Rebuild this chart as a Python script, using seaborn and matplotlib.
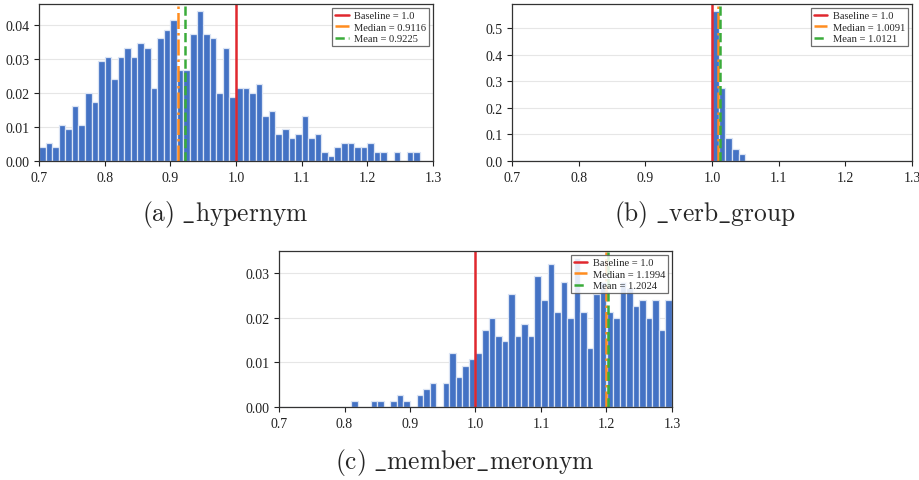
import numpy as np
import pandas as pd
import seaborn as sns
import matplotlib
matplotlib.use('Agg')
import matplotlib.pyplot as plt

# bin layout shared by all panels
bin_start = 0.70
bin_width = 0.01
n_bins = 60

# (a) _hypernym: relative frequency per bin, starting at 0.70
hyp_heights = [0.0041, 0.0054, 0.0041, 0.0107, 0.0094, 0.0161, 0.0107, 0.0199, 0.0172, 0.0294,
               0.0306, 0.0240, 0.0306, 0.0333, 0.0306, 0.0347, 0.0333, 0.0214, 0.0360, 0.0386,
               0.0413, 0.0267, 0.0267, 0.0374, 0.0439, 0.0374, 0.0360, 0.0199, 0.0333, 0.0187,
               0.0214, 0.0214, 0.0199, 0.0227, 0.0133, 0.0146, 0.0080, 0.0094, 0.0067, 0.0080,
               0.0133, 0.0067, 0.0080, 0.0027, 0.0014, 0.0041, 0.0054, 0.0054, 0.0041, 0.0041,
               0.0054, 0.0027, 0.0027, 0.0, 0.0027, 0.0, 0.0027, 0.0027, 0.0, 0.0]
hyp_median = 0.9116
hyp_mean = 0.9225

# (b) _verb_group: only a few non-empty bins
verb_bin_lo = [0.99, 1.00, 1.01, 1.02, 1.03, 1.04, 1.05]
verb_heights = [0.0015, 0.564, 0.274, 0.086, 0.044, 0.028, 0.0015]
verb_median = 1.0091
verb_mean = 1.0121

# (c) _member_meronym
mer_heights = [0.0, 0.0, 0.0, 0.0, 0.0, 0.0, 0.0, 0.0, 0.0, 0.0,
               0.0, 0.0013, 0.0, 0.0, 0.0013, 0.0013, 0.0, 0.0013, 0.0027, 0.0013,
               0.0, 0.0027, 0.0040, 0.0053, 0.0, 0.0053, 0.0120, 0.0067, 0.0093, 0.0107,
               0.0120, 0.0173, 0.0200, 0.0160, 0.0147, 0.0253, 0.0160, 0.0187, 0.0160, 0.0293,
               0.0240, 0.0320, 0.0213, 0.0280, 0.0200, 0.0333, 0.0213, 0.0133, 0.0253, 0.0280,
               0.0213, 0.0200, 0.0280, 0.0267, 0.0227, 0.0240, 0.0200, 0.0240, 0.0173, 0.0240]
mer_median = 1.1994
mer_mean = 1.2024

baseline = 1.0
captions = [r'$\mathrm{(a)\ \_hypernym}$', r'$\mathrm{(b)\ \_verb\_group}$',
            r'$\mathrm{(c)\ \_member\_meronym}$']

sns.set_style('ticks')
plt.rcParams['font.family'] = ['Liberation Serif', 'DejaVu Serif']
plt.rcParams['mathtext.fontset'] = 'cm'

bar_color = '#4472c4'
bin_range = (bin_start, bin_start + n_bins * bin_width)


def draw_panel(ax, centers, heights, median, mean):
    ax.grid(axis='y', color='#e6e6e6', linewidth=0.8, zorder=0)
    ax.set_axisbelow(True)
    df = pd.DataFrame({'ratio': centers, 'freq': heights})
    sns.histplot(data=df, x='ratio', weights='freq', binwidth=bin_width, binrange=bin_range,
                 ax=ax, stat='count', color=bar_color, edgecolor='#dbe4f4',
                 linewidth=0.9, alpha=1.0)
    ax.axvline(baseline, color='#e0282e', linewidth=1.8, label=f'Baseline = {baseline}')
    ax.axvline(median, color='#ff8c1f', linewidth=1.8, linestyle='-.', label=f'Median = {median:.4f}')
    ax.axvline(mean, color='#3aac3a', linewidth=1.8, linestyle='--', label=f'Mean = {mean:.4f}')
    ax.set_xlim(0.7, 1.3)
    ax.set_xticks(np.round(np.arange(0.7, 1.31, 0.1), 1))
    ax.set_xlabel('')
    ax.set_ylabel('')
    ax.tick_params(labelsize=10, length=3.5, width=0.8, colors='#222222')
    for sp in ax.spines.values():
        sp.set_color('#333333')
        sp.set_linewidth(0.9)
    leg = ax.legend(loc='upper right', fontsize=7.6, fancybox=False, framealpha=0.85,
                    edgecolor='#555555', borderpad=0.3, handlelength=1.3,
                    handletextpad=0.5, labelspacing=0.2, borderaxespad=0.35)
    leg.get_frame().set_linewidth(0.9)


fig = plt.figure(figsize=(9.2, 4.81), dpi=100)
ax_a = fig.add_axes([39 / 920, 1 - 162 / 481, 394 / 920, 157 / 481])
ax_b = fig.add_axes([512 / 920, 1 - 162 / 481, 400 / 920, 157 / 481])
ax_c = fig.add_axes([279 / 920, 1 - 408 / 481, 393 / 920, 156 / 481])

centers = bin_start + bin_width * (np.arange(n_bins) + 0.5)
draw_panel(ax_a, centers, hyp_heights, hyp_median, hyp_mean)
draw_panel(ax_b, np.array(verb_bin_lo) + bin_width / 2, verb_heights, verb_median, verb_mean)
draw_panel(ax_c, centers, mer_heights, mer_median, mer_mean)

ax_a.yaxis.set_major_formatter(matplotlib.ticker.FormatStrFormatter('%.2f'))
ax_b.yaxis.set_major_formatter(matplotlib.ticker.FormatStrFormatter('%.1f'))
ax_c.yaxis.set_major_formatter(matplotlib.ticker.FormatStrFormatter('%.2f'))
ax_a.set_yticks([0, 0.01, 0.02, 0.03, 0.04])
ax_b.set_yticks([0, 0.1, 0.2, 0.3, 0.4, 0.5])
ax_c.set_yticks([0, 0.01, 0.02, 0.03])

fig.text(225 / 920, 1 - 215 / 481, captions[0], ha='center', va='center', fontsize=18.3)
fig.text(705 / 920, 1 - 215 / 481, captions[1], ha='center', va='center', fontsize=18.3)
fig.text(465 / 920, 1 - 463 / 481, captions[2], ha='center', va='center', fontsize=18.3)

fig.savefig('out.png', dpi=100)
